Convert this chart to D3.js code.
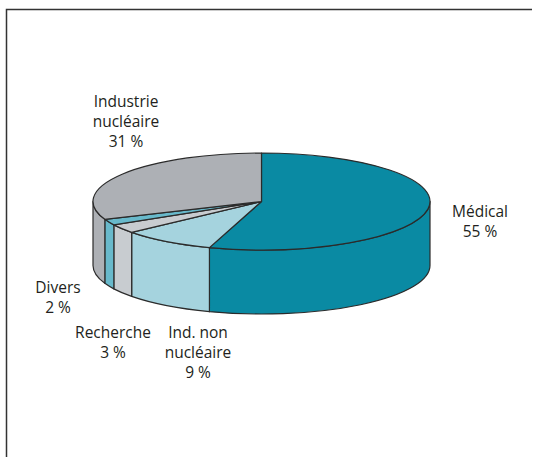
<!DOCTYPE html>
<html>
<head>
<meta charset="utf-8">
<script src="https://cdn.jsdelivr.net/npm/d3@7"></script>
<style>
  body { margin: 0; background: #fff; }
  svg { display: block; }
  .label { font-family: "Open Sans", sans-serif; font-size: 15.5px; fill: #231f20; }
</style>
</head>
<body>
<div id="chart"></div>
<script>
// data
var categories = ["Médical", "Ind. non nucléaire", "Recherche", "Divers", "Industrie nucléaire"];
var values = [55, 9, 3, 2, 31];
var labelLines = [
    ["Médical", "55 %"],
    ["Ind. non", "nucléaire", "9 %"],
    ["Recherche", "3 %"],
    ["Divers", "2 %"],
    ["Industrie", "nucléaire", "31 %"]
];

var width = 534, height = 457;
var colors = ["#0a8aa3", "#a5d3de", "#c8ccd0", "#68b9cb", "#adb0b5"];
// hand placed label anchors (centre x, first baseline y), like the original
var labelAt = [[480, 216.5], [198, 338], [113, 338], [58, 293], [126, 106.5]];

var cx = 261.5, cy = 201.5, rx = 168.5, ry = 48.5, depth = 64;

var svg = d3.select("#chart").append("svg")
    .attr("width", width)
    .attr("height", height);

// frame
svg.append("path")
    .attr("d", "M6.5,457 L6.5,9.5 L532,9.5")
    .attr("fill", "none")
    .attr("stroke", "#333")
    .attr("stroke-width", 1.5);

var pie = d3.pie().sort(null).value(function (d) { return d; });
var arcs = pie(values);

function pt(a, dy) {
    return [cx + rx * Math.sin(a), cy - ry * Math.cos(a) + (dy || 0)];
}

function topPath(d) {
    var p0 = pt(d.startAngle), p1 = pt(d.endAngle);
    var large = (d.endAngle - d.startAngle) > Math.PI ? 1 : 0;
    return "M" + cx + "," + cy + "L" + p0 + "A" + rx + "," + ry + " 0 " + large + " 1 " + p1 + "Z";
}

function sidePath(d) {
    // only the front half of the rim is visible
    var s = Math.max(d.startAngle, Math.PI / 2),
        e = Math.min(d.endAngle, Math.PI * 1.5);
    if (e <= s) return null;
    return "M" + pt(s) +
        "A" + rx + "," + ry + " 0 0 1 " + pt(e) +
        "L" + pt(e, depth) +
        "A" + rx + "," + ry + " 0 0 0 " + pt(s, depth) + "Z";
}

var g = svg.append("g");

g.selectAll(".side")
    .data(arcs.filter(function (d) { return sidePath(d) !== null; }))
    .enter().append("path")
    .attr("class", "side")
    .attr("d", sidePath)
    .attr("fill", function (d) { return colors[d.index]; })
    .attr("stroke", "#2b2b2b")
    .attr("stroke-width", 1.2)
    .attr("stroke-linejoin", "round");

g.selectAll(".top")
    .data(arcs)
    .enter().append("path")
    .attr("class", "top")
    .attr("d", topPath)
    .attr("fill", function (d) { return colors[d.index]; })
    .attr("stroke", "#2b2b2b")
    .attr("stroke-width", 1.2)
    .attr("stroke-linejoin", "round");

// labels
var labels = svg.selectAll(".label")
    .data(categories)
    .enter().append("text")
    .attr("class", "label")
    .attr("text-anchor", "middle")
    .attr("transform", function (d, i) { return "translate(" + labelAt[i] + ")"; });

labels.selectAll("tspan")
    .data(function (d, i) { return labelLines[i]; })
    .enter().append("tspan")
    .attr("x", 0)
    .attr("y", function (d, j) { return j * 20; })
    .text(function (d) { return d; });
</script>
</body>
</html>
